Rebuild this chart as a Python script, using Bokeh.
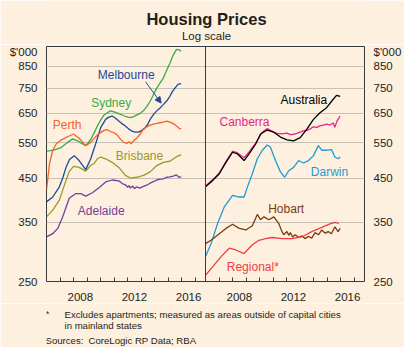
from bokeh.plotting import figure
from bokeh.layouts import column
from bokeh.models import (Range1d, FixedTicker, LogAxis, Span, Label, Arrow,
                          NormalHead, NumeralTickFormatter)
from bokeh.embed import file_html
from bokeh.resources import INLINE

# ---------------- data ($'000, log scale) ----------------
PANEL_SPAN = 11.75  # years shown in each panel (2006.0 -> 2017.75)

tick_years = [2008, 2012, 2016]
year_boundaries = list(range(2007, 2018))
y_ticks = [250, 350, 450, 550, 650, 750, 850]
grid_ticks = [350, 450, 550, 650, 750, 850]
UNIT_TEXT = "$'000"
UNIT_POS = 922  # where the unit text sits on the y scale (just under the top)

# left panel
sydney_year = [2006.0, 2006.3, 2006.59, 2007.07, 2007.56, 2007.93, 2008.29, 2008.6, 2008.9, 2009.27,
               2009.5, 2009.76, 2010.0, 2010.24, 2010.5, 2010.73, 2011.1, 2011.4, 2011.71, 2012.0,
               2012.2, 2012.44, 2012.68, 2012.93, 2013.17, 2013.41, 2013.66, 2013.9, 2014.15, 2014.39,
               2014.63, 2014.88, 2015.12, 2015.37, 2015.61, 2015.8, 2015.95]
sydney_price = [524, 526, 528, 535, 551, 562, 556, 548, 541, 560,
                580, 605, 625, 643, 652, 659, 653, 648, 641, 636,
                634, 638, 644, 650, 660, 675, 696, 722, 750, 772,
                794, 830, 864, 906, 935, 932, 925]

melbourne_year = [2006.0, 2006.46, 2006.95, 2007.2, 2007.44, 2007.7, 2008.05, 2008.41, 2008.9, 2009.27,
                  2009.63, 2010.0, 2010.37, 2010.6, 2010.85, 2011.1, 2011.34, 2011.6, 2011.83, 2012.07,
                  2012.32, 2012.56, 2012.8, 2013.05, 2013.29, 2013.5, 2013.66, 2013.9, 2014.15, 2014.39,
                  2014.63, 2014.88, 2015.12, 2015.3, 2015.49, 2015.73, 2015.95]
melbourne_price = [393, 404, 428, 450, 478, 500, 511, 497, 472, 502,
                   546, 599, 628, 636, 640, 632, 622, 612, 605, 595,
                   587, 584, 584, 590, 599, 612, 628, 645, 659, 670,
                   683, 697, 716, 735, 750, 767, 768]

perth_year = [2006.0, 2006.22, 2006.46, 2006.71, 2007.07, 2007.56, 2008.0, 2008.41, 2008.9, 2009.27,
              2009.76, 2010.24, 2010.5, 2010.73, 2011.0, 2011.22, 2011.45, 2011.71, 2011.95, 2012.1,
              2012.25, 2012.44, 2012.68, 2012.93, 2013.1, 2013.41, 2013.66, 2013.9, 2014.15, 2014.39,
              2014.63, 2014.88, 2015.12, 2015.37, 2015.61, 2015.8, 2015.95]
perth_price = [420, 488, 527, 546, 558, 569, 578, 564, 541, 551,
               575, 590, 592, 586, 582, 575, 562, 551, 548, 553,
               547, 556, 565, 578, 590, 602, 608, 611, 614, 616,
               618, 622, 618, 613, 605, 597, 595]

brisbane_year = [2006.0, 2006.46, 2006.95, 2007.44, 2007.7, 2008.0, 2008.41, 2008.9, 2009.3, 2009.5,
                 2009.76, 2010.0, 2010.37, 2010.85, 2011.34, 2011.83, 2012.2, 2012.68, 2013.17, 2013.66,
                 2014.15, 2014.63, 2015.12, 2015.61, 2015.95]
brisbane_price = [361, 375, 397, 444, 468, 481, 478, 468, 485, 488,
                  502, 507, 502, 492, 478, 457, 450, 452, 457, 466,
                  483, 492, 495, 508, 513]

adelaide_year = [2006.0, 2006.46, 2006.83, 2007.2, 2007.68, 2008.17, 2008.54, 2008.9, 2009.39, 2009.88,
                 2010.37, 2010.85, 2011.34, 2011.6, 2011.83, 2012.0, 2012.1, 2012.2, 2012.35, 2012.5,
                 2012.68, 2012.9, 2013.17, 2013.4, 2013.66, 2013.9, 2014.15, 2014.4, 2014.63, 2014.88,
                 2015.12, 2015.37, 2015.6, 2015.8, 2015.95]
adelaide_price = [322, 328, 338, 361, 401, 412, 412, 406, 414, 426,
                  440, 445, 443, 436, 433, 427, 431, 425, 430, 424,
                  428, 425, 429, 432, 437, 441, 445, 447, 448, 452,
                  453, 455, 458, 452, 453]

# right panel
australia_year = [2006.0, 2006.54, 2007.02, 2007.51, 2008.0, 2008.37, 2008.85, 2009.22, 2009.71, 2010.07,
                  2010.56, 2011.05, 2011.54, 2012.02, 2012.51, 2013.0, 2013.49, 2013.98, 2014.46, 2014.95,
                  2015.32, 2015.68, 2015.95]
australia_price = [428, 444, 461, 492, 521, 516, 497, 516, 546, 578,
                   591, 584, 568, 559, 556, 566, 594, 628, 652, 671,
                   696, 720, 716]

canberra_year = [2006.0, 2006.54, 2007.02, 2007.51, 2008.0, 2008.37, 2008.85, 2009.22, 2009.71, 2010.0,
                 2010.2, 2010.56, 2010.8, 2011.05, 2011.3, 2011.66, 2012.02, 2012.27, 2012.51, 2012.75,
                 2013.0, 2013.24, 2013.49, 2013.73, 2013.98, 2014.22, 2014.46, 2014.7, 2014.95, 2015.2,
                 2015.44, 2015.56, 2015.7, 2015.8, 2015.95]
canberra_price = [430, 446, 463, 494, 524, 519, 505, 522, 549, 570,
                  584, 596, 590, 584, 580, 578, 581, 576, 577, 580,
                  584, 588, 590, 595, 602, 600, 605, 608, 611, 608,
                  615, 600, 620, 628, 640]

darwin_year = [2006.0, 2006.41, 2006.9, 2007.39, 2008.0, 2008.49, 2008.85, 2009.1, 2009.46, 2009.83,
               2010.2, 2010.56, 2010.8, 2011.17, 2011.54, 2011.85, 2012.15, 2012.51, 2012.88, 2013.24,
               2013.61, 2013.98, 2014.34, 2014.59, 2014.95, 2015.32, 2015.56, 2015.8, 2015.95]
darwin_price = [288, 310, 348, 382, 408, 404, 404, 428, 461, 502,
                527, 543, 536, 497, 466, 452, 469, 478, 497, 490,
                497, 511, 541, 527, 527, 529, 507, 502, 507]

hobart_year = [2006.0, 2006.41, 2007.02, 2007.51, 2008.0, 2008.49, 2008.98, 2009.46, 2009.83, 2010.07,
               2010.32, 2010.68, 2011.05, 2011.41, 2011.6, 2011.78, 2012.02, 2012.15, 2012.27, 2012.45,
               2012.63, 2012.9, 2013.12, 2013.35, 2013.61, 2013.85, 2014.1, 2014.35, 2014.59, 2014.85,
               2015.07, 2015.3, 2015.56, 2015.8, 2015.95]
hobart_price = [310, 316, 328, 338, 346, 338, 335, 343, 366, 355,
                361, 355, 361, 348, 335, 326, 332, 325, 330, 322,
                326, 321, 324, 319, 323, 320, 330, 326, 335, 329,
                332, 328, 341, 332, 338]

regional_year = [2006.0, 2006.54, 2007.15, 2007.76, 2008.24, 2008.85, 2009.46, 2009.95, 2010.44, 2010.93,
                 2011.66, 2012.39, 2013.12, 2013.85, 2014.59, 2015.2, 2015.56, 2015.85]
regional_price = [259, 272, 288, 302, 299, 293, 308, 316, 319, 321,
                  319, 319, 322, 332, 340, 347, 350, 348]

# ---------------- styling ----------------
BG = "#fdf0de"
INK = "#231f20"
FRAME = "#3a3a3a"
GRID = "#c6c0b6"
FONT = "Liberation Sans"

HEAD_H = 44    # header strip height
MAIN_H = 259   # main chart height (frame 2..238 inside it)
FOOT_H = 44    # footnote strip height
MAIN_TOP = HEAD_H  # canvas offset of the main chart

left_series = [
    (sydney_year, sydney_price, "#3aaa47", "Sydney", 110.7, 102),
    (melbourne_year, melbourne_price, "#1f4a9a", "Melbourne", 125.7, 74),
    (perth_year, perth_price, "#f2622d", "Perth", 66.7, 124.7),
    (brisbane_year, brisbane_price, "#9a992c", "Brisbane", 139, 155.7),
    (adelaide_year, adelaide_price, "#7140a0", "Adelaide", 100.7, 210.7),
]
right_series = [
    (darwin_year, darwin_price, "#1e9bd4", "Darwin", 329, 171.3),
    (hobart_year, hobart_price, "#7a3a14", "Hobart", 285.7, 208.3),
    (regional_year, regional_price, "#f03c46", "Regional*", 252.3, 266.7),
    (canberra_year, canberra_price, "#e6258a", "Canberra", 244, 121.3),
    (australia_year, australia_price, "#000000", "Australia", 303.3, 99),
]


def text_strip(height):
    f = figure(width=404, height=height, x_range=Range1d(0, 1), y_range=Range1d(0, 1),
               output_backend="svg", toolbar_location=None, title=None,
               min_border=0, min_border_left=0, min_border_right=0,
               min_border_top=0, min_border_bottom=0)
    f.axis.visible = False
    f.grid.visible = False
    f.outline_line_color = None
    f.background_fill_color = BG
    f.border_fill_color = BG
    return f


def put(f, x, y, s, size="9.6px", align="left", style="normal", color=INK):
    f.add_layout(Label(x=x, y=y, x_units="canvas", y_units="canvas", text=s,
                       text_align=align, text_baseline="middle", text_font=FONT,
                       text_font_size=size, text_font_style=style, text_color=color))


# ---------- header ----------
head = text_strip(HEAD_H)
put(head, 206, 18.5, "Housing Prices", size="16.5px", align="center", style="bold")
put(head, 206, 35.7, "Log scale", size="11.5px", align="center")

# ---------- main chart ----------
p = figure(width=404, height=MAIN_H, y_axis_type="log", title=None,
           x_range=Range1d(2006.0, 2006.0 + 2 * PANEL_SPAN),
           y_range=Range1d(250, 950),
           output_backend="svg", toolbar_location=None,
           min_border_left=46, min_border_right=38,
           min_border_top=2, min_border_bottom=21)
p.background_fill_color = BG
p.border_fill_color = BG
p.outline_line_color = FRAME
p.outline_line_width = 1
p.xgrid.visible = False
p.ygrid.ticker = FixedTicker(ticks=grid_ticks)
p.ygrid.grid_line_color = GRID
p.ygrid.grid_line_width = 1

left_axis = p.yaxis[0]
right_axis = LogAxis()
p.add_layout(right_axis, "right")
for ax in (left_axis, right_axis):
    ax.ticker = FixedTicker(ticks=y_ticks + [UNIT_POS])
    ax.formatter = NumeralTickFormatter(format="0")
    ax.major_label_overrides = {UNIT_POS: UNIT_TEXT}
    ax.axis_line_color = None
    ax.major_tick_line_color = None
    ax.minor_tick_line_color = None
    ax.major_label_text_font = FONT
    ax.major_label_text_font_size = "11.5px"
    ax.major_label_text_color = INK
    ax.major_label_standoff = 3

label_pos = [y + 0.5 for y in tick_years] + [y + 0.5 + PANEL_SPAN for y in tick_years]
label_txt = [str(y) for y in tick_years] * 2
minor_pos = [float(y) for y in year_boundaries] + [y + PANEL_SPAN for y in year_boundaries]
xa = p.xaxis[0]
xa.ticker = FixedTicker(ticks=label_pos, minor_ticks=minor_pos)
xa.major_label_overrides = {pos: txt for pos, txt in zip(label_pos, label_txt)}
xa.axis_line_color = None
xa.major_tick_line_color = None
xa.minor_tick_line_color = FRAME
xa.minor_tick_in = 4
xa.minor_tick_out = 0
xa.major_label_text_font = FONT
xa.major_label_text_font_size = "11.5px"
xa.major_label_text_color = INK
xa.major_label_standoff = 5

p.add_layout(Span(location=2006.0 + PANEL_SPAN, dimension="height",
                  line_color=FRAME, line_width=1))

for xs, ys, col, name, lx, ly in left_series:
    p.line(xs, ys, line_color=col, line_width=1.3)
    put(p, lx, ly - MAIN_TOP, name, size="12px", align="center", color=col)
for xs, ys, col, name, lx, ly in right_series:
    p.line([x + PANEL_SPAN for x in xs], ys, line_color=col, line_width=1.3)
    put(p, lx, ly - MAIN_TOP, name, size="12px", align="center", color=col)

p.add_layout(Arrow(end=NormalHead(size=6, fill_color="#1f4a9a", line_color="#1f4a9a"),
                   x_start=2013.32, y_start=777, x_end=2014.47, y_end=689,
                   line_color="#1f4a9a", line_width=1))

# ---------- footnotes ----------
foot = text_strip(FOOT_H)
put(foot, 45, 10, "*")
put(foot, 64, 11, "Excludes apartments; measured as areas outside of capital cities")
put(foot, 64, 21.5, "in mainland states")
put(foot, 45, 37, "Sources:")
put(foot, 88, 37, "CoreLogic RP Data; RBA")

layout = column(head, p, foot, spacing=0)
open("out.html", "w").write(file_html(layout, INLINE))
